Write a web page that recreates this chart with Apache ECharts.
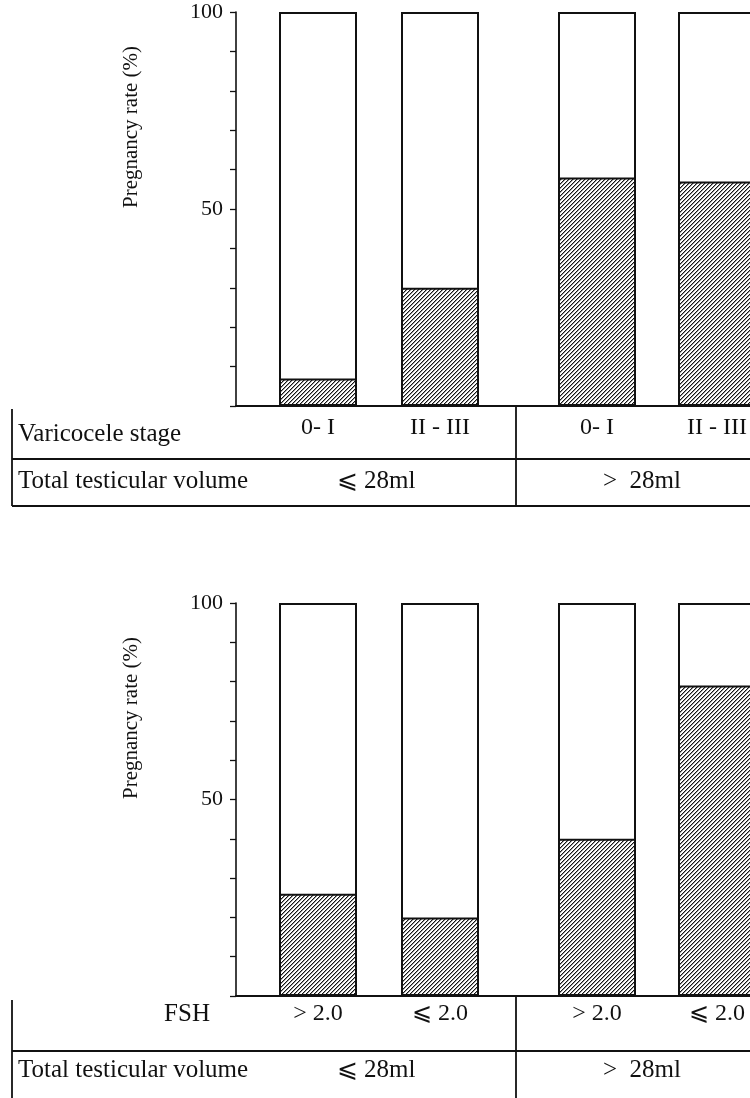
<!DOCTYPE html>
<html><head><meta charset="utf-8">
<script src="https://cdn.jsdelivr.net/npm/echarts@6/dist/echarts.min.js"></script>
<style>html,body{margin:0;padding:0;background:#fff}#c{width:750px;height:1098px}</style>
</head><body><div id="c"></div>
<script>
// ---- data ----
const stageCategories = ['0- I', 'II - III'];
const fshCategories = ['> 2.0', '⩽ 2.0'];
const volumeGroups = ['⩽ 28ml', '>  28ml'];
const stageRateLowVol = [7, 30];    // total testicular volume ⩽ 28ml
const stageRateHighVol = [58, 57];  // total testicular volume > 28ml
const fshRateLowVol = [26, 20];
const fshRateHighVol = [40, 79];
const yTickLabels = [50, 100];
const yAxisTitle = 'Pregnancy rate (%)';
const rowTitleTop = 'Varicocele stage';
const rowTitleBottom = 'FSH';
const volumeTitle = 'Total testicular volume';

// ---- helpers ----
const FONT = '"Liberation Serif", "Times New Roman", serif';
const INK = '#111';
function hatch() {
  // pixel-exact "/" diagonal hatching, period 4px
  const c = document.createElement('canvas');
  c.width = 4; c.height = 4;
  const g = c.getContext('2d');
  g.fillStyle = '#fff'; g.fillRect(0, 0, 4, 4);
  for (let y = 0; y < 4; y++) {
    g.fillStyle = '#151515'; g.fillRect((3 - y + 4) % 4, y, 1, 1);
    g.fillStyle = '#9a9a9a'; g.fillRect((4 - y + 4) % 4, y, 1, 1);
  }
  return c;
}
const hatchPattern = { image: hatch(), repeat: 'repeat' };

const grids = [], xAxes = [], yAxes = [], series = [], graphics = [];

function panel(top, height, cats, low, high, labelMargin) {
  const base = grids.length;
  grids.push({ left: 236, right: 0, top: top, height: height, outerBoundsMode: 'none', containLabel: false });
  grids.push({ left: 257, width: 244, top: top, height: height, outerBoundsMode: 'none', containLabel: false });
  grids.push({ left: 537, width: 240, top: top, height: height, outerBoundsMode: 'none', containLabel: false });
  // axis grid
  xAxes.push({ gridIndex: base, type: 'value', min: 0, max: 1,
    axisLine: { show: true, lineStyle: { color: INK, width: 2 } },
    axisTick: { show: false }, axisLabel: { show: false }, splitLine: { show: false } });
  yAxes.push({ gridIndex: base, type: 'value', min: 0, max: 100, interval: 10,
    axisLine: { show: true, lineStyle: { color: INK, width: 1.6 } },
    axisTick: { show: true, inside: false, length: 6, lineStyle: { color: INK, width: 1.3 } },
    axisLabel: { margin: 13, color: INK, fontFamily: FONT, fontSize: 22, padding: [12, 0, 0, 0],
      formatter: v => yTickLabels.includes(v) ? String(v) : '' },
    splitLine: { show: false } });
  [low, high].forEach((vals, k) => {
    const gi = base + 1 + k;
    xAxes.push({ gridIndex: gi, type: 'category', data: cats,
      axisLine: { show: false }, axisTick: { show: false },
      axisLabel: { margin: labelMargin, color: INK, fontFamily: FONT, fontSize: 24 } });
    yAxes.push({ gridIndex: gi, type: 'value', min: 0, max: 100, show: false });
    series.push({ type: 'bar', xAxisIndex: gi, yAxisIndex: gi, barWidth: 78, barGap: '-100%',
      data: cats.map(() => 100), silent: true,
      itemStyle: { color: '#fff', borderColor: INK, borderWidth: 2 } });
    series.push({ type: 'bar', xAxisIndex: gi, yAxisIndex: gi, barWidth: 78, barGap: '-100%',
      data: vals,
      itemStyle: { color: hatchPattern, borderColor: INK, borderWidth: 2 } });
  });
}

panel(12, 394, stageCategories, stageRateLowVol, stageRateHighVol, 10);
panel(603, 393, fshCategories, fshRateLowVol, fshRateHighVol, 6);

function txt(x, y, text, opts) {
  graphics.push(Object.assign({ type: 'text', x: x, y: y,
    style: Object.assign({ text: text, fill: INK, font: '25px ' + FONT,
      textAlign: 'left', textVerticalAlign: 'middle', align: 'left', verticalAlign: 'middle' }, opts || {}) }));
}
function line(x1, y1, x2, y2, w) {
  graphics.push({ type: 'line', shape: { x1, y1, x2, y2 },
    style: { stroke: INK, lineWidth: w || 1.8 } });
}
function yTitle(cy) {
  graphics.push({ type: 'text', x: 131, y: cy, rotation: Math.PI / 2,
    style: { text: yAxisTitle, fill: INK, font: '21px ' + FONT,
      textAlign: 'center', textVerticalAlign: 'middle', align: 'center', verticalAlign: 'middle' } });
}

// top table
yTitle(127);
line(12, 409, 12, 506);
line(12, 459, 750, 459);
line(12, 506, 750, 506);
line(516, 405, 516, 506);
txt(18, 434, rowTitleTop);
txt(18, 481, volumeTitle);
txt(376, 481, volumeGroups[0], { textAlign: 'center', align: 'center' });
txt(642, 481, volumeGroups[1], { textAlign: 'center', align: 'center' });

// bottom table
yTitle(718);
line(12, 1000, 12, 1098);
line(12, 1051, 750, 1051);
line(516, 997, 516, 1098);
txt(187, 1014, rowTitleBottom, { textAlign: 'center', align: 'center' });
txt(18, 1070, volumeTitle);
txt(376, 1070, volumeGroups[0], { textAlign: 'center', align: 'center' });
txt(642, 1070, volumeGroups[1], { textAlign: 'center', align: 'center' });

const chart = echarts.init(document.getElementById('c'), null, { renderer: 'canvas' });
chart.setOption({
  backgroundColor: '#fff',
  animation: false,
  grid: grids, xAxis: xAxes, yAxis: yAxes, series: series,
  graphic: graphics
});
</script>
</body></html>
